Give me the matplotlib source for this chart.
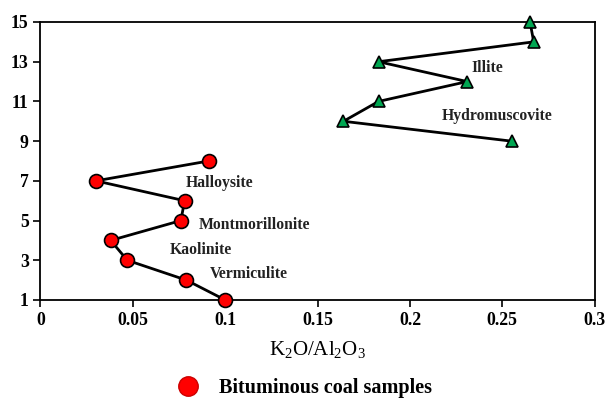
import matplotlib.pyplot as plt
from matplotlib.lines import Line2D

plt.rcParams['font.family'] = ['Liberation Serif', 'DejaVu Serif']
plt.rcParams['mathtext.fontset'] = 'custom'
plt.rcParams['mathtext.rm'] = 'Liberation Serif'
plt.rcParams['mathtext.it'] = 'Liberation Serif:italic'
plt.rcParams['mathtext.bf'] = 'Liberation Serif:bold'

# bituminous coal samples
coal_y = [8, 7, 6, 5, 4, 3, 2, 1]
coal_x = [0.091, 0.030, 0.078, 0.076, 0.038, 0.047, 0.079, 0.100]

# second group (triangles)
tri_y = [9, 10, 11, 12, 13, 14, 15]
tri_x = [0.255, 0.164, 0.183, 0.231, 0.183, 0.267, 0.265]

labels = ['Halloysite', 'Montmorillonite', 'Kaolinite', 'Vermiculite', 'Illite', 'Hydromuscovite']
label_x = [0.0785, 0.0855, 0.070, 0.0915, 0.2335, 0.217]
label_y = [6.9, 4.76, 3.51, 2.3, 12.69, 10.28]

fig = plt.figure(figsize=(6.07, 4.0), dpi=100)
ax = fig.add_axes([0.0667, 0.25, 0.913, 0.695])

ax.plot(coal_x, coal_y, color='black', lw=2, marker='o', markersize=10,
        markerfacecolor='#ff0000', markeredgecolor='black', markeredgewidth=1.2,
        clip_on=False, zorder=3)
ax.plot(tri_x, tri_y, color='black', lw=2, marker='^', markersize=9,
        markerfacecolor='#00a651', markeredgecolor='black', markeredgewidth=1.2,
        clip_on=False, zorder=3)

for t, x, y in zip(labels, label_x, label_y):
    ax.text(x, y, t, fontsize=11.3, fontweight='bold', color='#222222',
            ha='left', va='center')

ax.set_xlim(0, 0.3)
ax.set_ylim(1, 15)
ax.set_xticks([0, 0.05, 0.1, 0.15, 0.2, 0.25, 0.3])
ax.set_xticklabels(['0', '0.05', '0.1', '0.15', '0.2', '0.25', '0.3'])
ax.set_yticks([1, 3, 5, 7, 9, 11, 13, 15])
ax.tick_params(direction='out', length=5, width=1.2, labelsize=12.8)
for lab in ax.get_xticklabels() + ax.get_yticklabels():
    lab.set_fontweight('bold')
for s in ax.spines.values():
    s.set_linewidth(1.3)

ax.set_xlabel(r'K$_2$O/Al$_2$O$_3$', fontsize=15, labelpad=7)

handle = Line2D([], [], linestyle='none', marker='o', markersize=14,
                markerfacecolor='#ff0000', markeredgecolor='#cc0000')
fig.legend([handle], ['Bituminous coal samples'], loc='center',
           bbox_to_anchor=(0.494, 0.03), frameon=False,
           prop={'size': 14.5, 'weight': 'bold'}, handletextpad=0.5)

plt.savefig('out.png', dpi=100)
